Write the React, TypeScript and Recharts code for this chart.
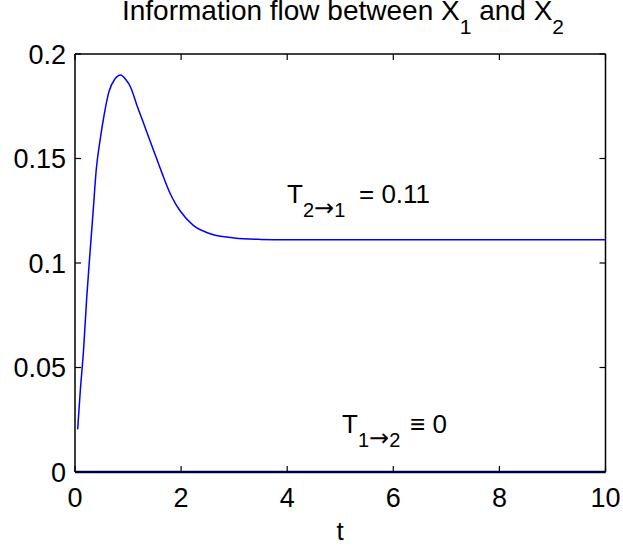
import React from 'react';
import { LineChart, Line, XAxis, YAxis } from 'recharts';

// T(2->1)
const timeSteps = [0.05, 0.1, 0.16, 0.22, 0.28, 0.34, 0.4, 0.48, 0.55, 0.64, 0.75, 0.86, 0.95, 1.05, 1.16, 1.32, 1.48, 1.64, 1.79, 1.88, 1.98, 2.23, 2.55, 3.0, 3.5, 4, 5, 6, 7, 8, 9, 10];
const flow21 = [0.0204, 0.039, 0.058, 0.083, 0.104, 0.124, 0.1445, 0.16, 0.171, 0.182, 0.188, 0.19, 0.188, 0.184, 0.176, 0.165, 0.154, 0.143, 0.1335, 0.129, 0.125, 0.118, 0.114, 0.112, 0.1113, 0.1111, 0.1111, 0.1111, 0.1111, 0.1111, 0.1111, 0.1111];

// T(1->2) is identically zero
const zeroTimes = [0, 10];
const flow12 = [0, 0];

const xTicks = [0, 2, 4, 6, 8, 10];
const yTicks = [0, 0.05, 0.1, 0.15, 0.2];

const data21 = timeSteps.map((t, i) => ({ t, v: flow21[i] }));
const data12 = zeroTimes.map((t, i) => ({ t, v: flow12[i] }));

const FONT = '"Liberation Sans", Arial, Helvetica, sans-serif';
const FS = 27;
const axisLine = { stroke: '#000', strokeWidth: 1.5 };

// plot box (matlab style: ticks point inwards on all four sides)
const W = 623;
const H = 548;
const M = { top: 54, right: 17.5, bottom: 36, left: 15 };
const Y_AXIS_W = 60;
const X_AXIS_H = 40;
const PLOT_W = W - M.left - Y_AXIS_W - M.right;
const PLOT_H = H - M.top - X_AXIS_H - M.bottom;
const TICK_LEN = 6;
const X_MARGIN = 10;
const Y_MARGIN = 3;

const XTick = (props: any) => {
  const { x, y, payload } = props;
  const axisY = y - 6 - X_MARGIN;
  return (
    <g>
      <line x1={x} x2={x} y1={axisY} y2={axisY - TICK_LEN} stroke="#000" strokeWidth={1.2} />
      <line x1={x} x2={x} y1={axisY - PLOT_H} y2={axisY - PLOT_H + TICK_LEN} stroke="#000" strokeWidth={1.2} />
      <text x={x} y={y} dy="0.71em" textAnchor="middle" fontSize={FS} fontFamily={FONT} fill="#000">
        {payload.value}
      </text>
    </g>
  );
};

const YTick = (props: any) => {
  const { x, y, payload } = props;
  const axisX = x + 6 + Y_MARGIN;
  return (
    <g>
      <line x1={axisX} x2={axisX + TICK_LEN} y1={y} y2={y} stroke="#000" strokeWidth={1.2} />
      <line x1={axisX + PLOT_W} x2={axisX + PLOT_W - TICK_LEN} y1={y} y2={y} stroke="#000" strokeWidth={1.2} />
      <text x={x} y={y} dy="0.355em" textAnchor="end" fontSize={FS} fontFamily={FONT} fill="#000">
        {payload.value}
      </text>
    </g>
  );
};

export default function App() {
  return (
    <div style={{ position: 'absolute', left: 0, top: 0, width: W, height: H, background: '#fff' }}>
      <LineChart width={W} height={H} margin={M}>
        <XAxis
          xAxisId="b"
          dataKey="t"
          type="number"
          domain={[0, 10]}
          ticks={xTicks}
          height={X_AXIS_H}
          tickSize={6}
          tickLine={false}
          tickMargin={X_MARGIN}
          axisLine={axisLine}
          tick={<XTick />}
        />
        <XAxis
          xAxisId="top"
          orientation="top"
          mirror
          type="number"
          domain={[0, 10]}
          height={10}
          axisLine={axisLine}
          tickLine={false}
          tick={false}
        />
        <YAxis
          yAxisId="l"
          type="number"
          domain={[0, 0.2]}
          ticks={yTicks}
          width={Y_AXIS_W}
          tickSize={6}
          tickLine={false}
          tickMargin={Y_MARGIN}
          axisLine={axisLine}
          tick={<YTick />}
        />
        <YAxis
          yAxisId="r"
          orientation="right"
          mirror
          type="number"
          domain={[0, 0.2]}
          width={10}
          axisLine={axisLine}
          tickLine={false}
          tick={false}
        />
        <Line
          xAxisId="b"
          yAxisId="l"
          data={data21}
          dataKey="v"
          type="monotone"
          stroke="#0000ff"
          strokeWidth={1.5}
          dot={false}
          isAnimationActive={false}
        />
        <Line
          xAxisId="b"
          yAxisId="l"
          data={data12}
          dataKey="v"
          type="linear"
          stroke="#0000cc"
          strokeWidth={2.5}
          dot={false}
          isAnimationActive={false}
        />
      </LineChart>
      <svg
        width={W}
        height={H}
        style={{ position: 'absolute', left: 0, top: 0, pointerEvents: 'none' }}
        fontFamily={FONT}
        fill="#000"
      >
        <text x={343} y={20} fontSize={28} textAnchor="middle">
          Information flow between X
          <tspan fontSize={21} dy={14}>1</tspan>
          <tspan dy={-14}> and X</tspan>
          <tspan fontSize={21} dy={14}>2</tspan>
        </text>
        <text x={287} y={203} fontSize={26}>
          T
          <tspan fontSize={20} dy={14}>2</tspan>
          <tspan fontSize={24} fontFamily="DejaVu Sans" dy={-1}>→</tspan>
          <tspan fontSize={20} dy={1}>1</tspan>
          <tspan x={359} dy={-14}>= 0.11</tspan>
        </text>
        <text x={342} y={433} fontSize={26}>
          T
          <tspan fontSize={20} dy={14}>1</tspan>
          <tspan fontSize={24} fontFamily="DejaVu Sans" dy={-1}>→</tspan>
          <tspan fontSize={20} dy={1}>2</tspan>
          <tspan x={410} dy={-14}>≡ 0</tspan>
        </text>
        <text x={340} y={540} fontSize={26} textAnchor="middle">t</text>
      </svg>
    </div>
  );
}
